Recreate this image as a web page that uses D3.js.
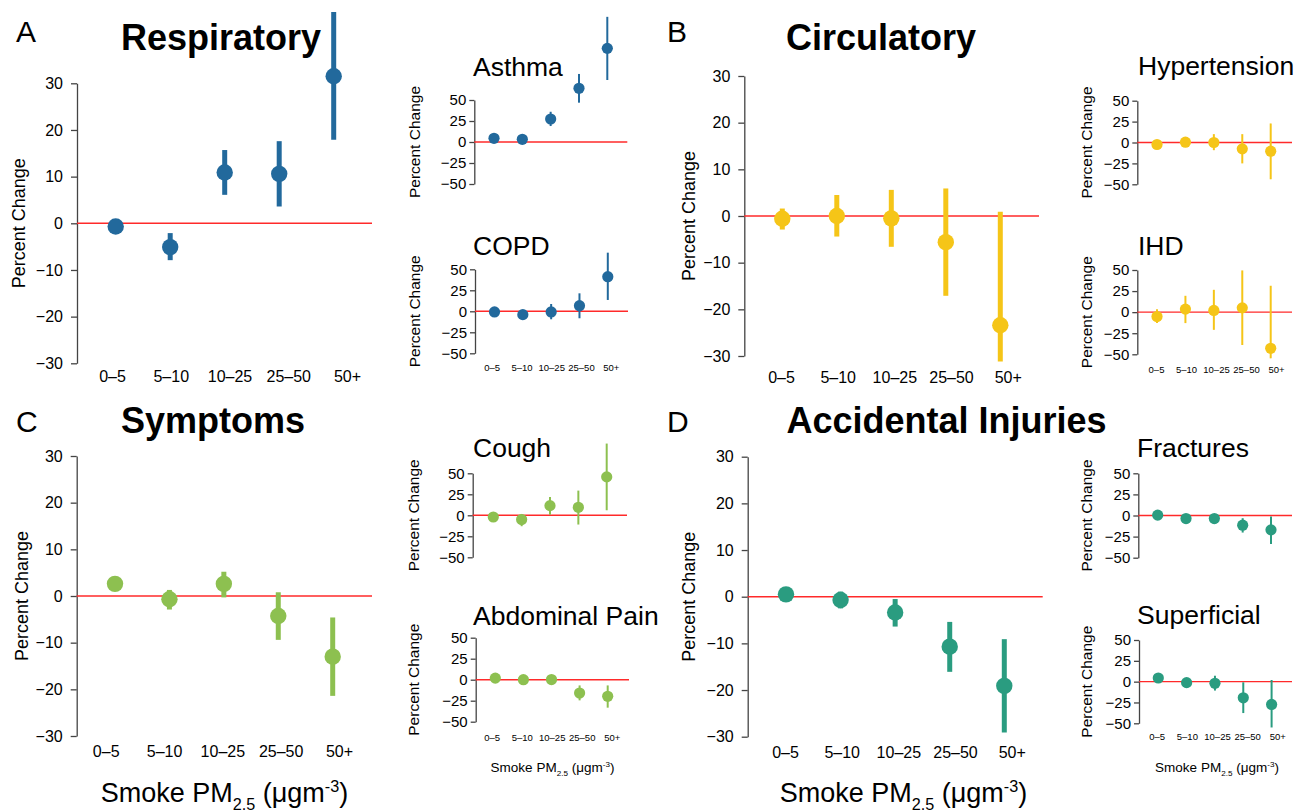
<!DOCTYPE html>
<html>
<head>
<meta charset="utf-8">
<script src="https://cdn.jsdelivr.net/npm/d3@7"></script>
<style>
  body { margin: 0; background: #fff; }
  text { font-family: "Liberation Sans", Arial, Helvetica, sans-serif; fill: #000; }
</style>
</head>
<body>
<svg id="chart" width="1298" height="812"></svg>
<script>
// PM2.5 bins and axis ticks
const bins = ['0–5', '5–10', '10–25', '25–50', '50+'];
const mainTicks = [-30, -20, -10, 0, 10, 20, 30];
const smallTicks = [-50, -25, 0, 25, 50];

// A: respiratory
const respEst = [-0.7, -5.1, 10.9, 10.6, 31.5];
const respLo = [-1.5, -7.9, 6.1, 3.6, 17.9];
const respHi = [0.1, -2.1, 15.7, 17.6, 45.3];
const asthmaEst = [4.4, 3.2, 27.4, 63.9, 111.5];
const asthmaLo = [2, 1, 19, 46.8, 73.8];
const asthmaHi = [7, 5.5, 36, 81, 149];
const copdEst = [-0.8, -4.0, -0.8, 6.7, 41.2];
const copdLo = [-2.5, -6, -9.5, -8.3, 13.5];
const copdHi = [1, -2, 8.7, 21.4, 69.8];

// B: circulatory
const circEst = [-0.6, 0.0, -0.5, -5.6, -23.4];
const circLo = [-2.9, -4.4, -6.6, -17.1, -31.2];
const circHi = [1.6, 4.5, 5.6, 5.9, 0.9];
const hyperEst = [-2.4, 0.4, 0, -7.6, -10.4];
const hyperLo = [-5, -2, -9.2, -25, -44];
const hyperHi = [0, 3, 10, 10, 22.8];
const ihdEst = [-5.2, 3.6, 2, 5.1, -42.9];
const ihdLo = [-13, -13, -21, -39, -54.8];
const ihdHi = [3.5, 19.4, 26.5, 49.5, 31.3];

// C: symptoms
const sympEst = [2.6, -0.7, 2.6, -4.3, -13];
const sympLo = [2.2, -2.9, -0.3, -9.4, -21.4];
const sympHi = [3, 1.3, 5.2, 0.8, -4.6];
const coughEst = [-2, -5.1, 11.5, 9.5, 45.7];
const coughLo = [-4, -13, 0.8, -11, 6];
const coughHi = [0, 1.6, 21.9, 29.4, 85.4];
const abdEst = [1.9, 0, 0.2, -15.9, -19.8];
const abdLo = [0.5, -1.5, -1.5, -24.6, -33.3];
const abdHi = [3.5, 1.5, 2, -6.8, -6.8];

// D: accidental injuries
const injEst = [0.5, -0.7, -3.4, -10.7, -19.1];
const injLo = [0, -2.5, -6.4, -16.1, -29.1];
const injHi = [1, 1.1, -0.5, -5.4, -9.1];
const fracEst = [0.4, -3.6, -3.6, -11.5, -17];
const fracLo = [-1, -5, -5, -20.2, -33.7];
const fracHi = [2, -2, -2, -3.2, -1.2];
const supEst = [4.4, -1.2, -2, -19.4, -27.4];
const supLo = [2.5, -3, -10.7, -37.7, -55];
const supHi = [6.5, 1, 7.1, -0.8, 2];

const blue = '#22699c', yellow = '#f5c518', green = '#8dc050', teal = '#2a9c80';

const svg = d3.select('#chart');

/* big panels: 30 to -30 scale, thick marks */
const bigPanels = [
  {est: respEst, lo: respLo, hi: respHi, color: blue, ax: 77, top: 83.3, bot: 363.3,
   px: [115.7, 333.7], lx: [112, 347], ly: 370.5, red: 372, ylab: 24.6,
   title: 'Respiratory', tx: 221, tyy: 50, letter: 'A', lxx: 16, lyy: 41.7},
  {est: circEst, lo: circLo, hi: circHi, color: yellow, ax: 744.3, top: 76, bot: 356,
   px: [782.3, 1000.3], lx: [781, 1007.7], ly: 371.5, red: 1039, ylab: 694.6,
   title: 'Circulatory', tx: 881, tyy: 50, letter: 'B', lxx: 667, lyy: 41.7},
  {est: sympEst, lo: sympLo, hi: sympHi, color: green, ax: 76.7, top: 456, bot: 736,
   px: [115, 332.7], lx: [105.7, 339], ly: 746, red: 372, ylab: 28,
   title: 'Symptoms', tx: 213, tyy: 433, letter: 'C', lxx: 16, lyy: 431.7},
  {est: injEst, lo: injLo, hi: injHi, color: teal, ax: 747.7, top: 456.7, bot: 736.7,
   px: [786, 1004.3], lx: [785, 1011.7], ly: 746.7, red: 1042.7, ylab: 694.6,
   title: 'Accidental Injuries', tx: 946.5, tyy: 433, letter: 'D', lxx: 667, lyy: 431.7}
];

/* small panels: 50 to -50 scale, thin marks */
const smallPanels = [
  {est: asthmaEst, lo: asthmaLo, hi: asthmaHi, color: blue, ax: 474.3, top: 100, bot: 184,
   px: [494, 607.3], red: 627.3, ylab: 420.4, title: 'Asthma', tx: 473, tyy: 76},
  {est: copdEst, lo: copdLo, hi: copdHi, color: blue, ax: 475, top: 269.3, bot: 353.3,
   px: [494.5, 607.8], red: 628, ylab: 420.4, title: 'COPD', tx: 473, tyy: 255,
   lx: [491.7, 610.7], ly: 364.5},
  {est: hyperEst, lo: hyperLo, hi: hyperHi, color: yellow, ax: 1137.3, top: 100.7, bot: 184.3,
   px: [1157, 1270.7], red: 1292, ylab: 1092, title: 'Hypertension', tx: 1138, tyy: 75},
  {est: ihdEst, lo: ihdLo, hi: ihdHi, color: yellow, ax: 1137.3, top: 270, bot: 354.3,
   px: [1157, 1270.7], red: 1292, ylab: 1092, title: 'IHD', tx: 1138, tyy: 255,
   lx: [1156, 1276], ly: 366.5},
  {est: coughEst, lo: coughLo, hi: coughHi, color: green, ax: 472.7, top: 473.3, bot: 557.3,
   px: [493.3, 606.7], red: 627, ylab: 419.4, title: 'Cough', tx: 473, tyy: 457},
  {est: abdEst, lo: abdLo, hi: abdHi, color: green, ax: 475.7, top: 637.7, bot: 721.7,
   px: [495.3, 607.7], red: 629, ylab: 419.4, title: 'Abdominal Pain', tx: 473, tyy: 625,
   lx: [491.7, 611.7], ly: 734.5, xt: 552.5},
  {est: fracEst, lo: fracLo, hi: fracHi, color: teal, ax: 1138.3, top: 473.3, bot: 557.7,
   px: [1157.7, 1271], red: 1292, ylab: 1092, title: 'Fractures', tx: 1137, tyy: 457},
  {est: supEst, lo: supLo, hi: supHi, color: teal, ax: 1139, top: 640, bot: 723.3,
   px: [1158.3, 1271.6], red: 1292, ylab: 1092, title: 'Superficial', tx: 1137, tyy: 624,
   lx: [1156.7, 1277.3], ly: 733.5, xt: 1217}
];

function drawPanel(p, big) {
  const g = svg.append('g');
  const y = d3.scaleLinear().domain(big ? [-30, 30] : [-50, 50]).range([p.bot, p.top]);
  const x = d3.scalePoint().domain(bins).range(p.px);
  const fs = big ? 16 : 15;

  // y axis
  const yAxis = g.append('g')
    .attr('transform', `translate(${p.ax},0)`)
    .call(d3.axisLeft(y).tickValues(big ? mainTicks : smallTicks)
      .tickSize(big ? 6 : 5).tickSizeOuter(0).tickPadding(big ? 8 : 3));
  yAxis.selectAll('path, line').attr('stroke', '#444').attr('stroke-width', 1.3);
  yAxis.selectAll('text').attr('font-size', fs).attr('font-family', '"Liberation Sans", Arial, sans-serif');

  g.append('text')
    .attr('transform', `translate(${p.ylab},${(p.top + p.bot) / 2}) rotate(-90)`)
    .attr('text-anchor', 'middle')
    .attr('font-size', big ? 18 : 15.5)
    .text('Percent Change');

  // zero line
  g.append('line')
    .attr('x1', p.ax).attr('x2', p.red)
    .attr('y1', y(0)).attr('y2', y(0))
    .attr('stroke', '#ff2a2a').attr('stroke-width', 1.4);

  const data = bins.map((b, i) => ({bin: b, est: p.est[i], lo: p.lo[i], hi: p.hi[i]}));

  g.selectAll('line.ci').data(data).enter().append('line')
    .attr('class', 'ci')
    .attr('x1', (d) => x(d.bin)).attr('x2', (d) => x(d.bin))
    .attr('y1', (d) => y(d.lo)).attr('y2', (d) => y(d.hi))
    .attr('stroke', p.color).attr('stroke-width', big ? 5 : 2);

  g.selectAll('circle').data(data).enter().append('circle')
    .attr('cx', (d) => x(d.bin)).attr('cy', (d) => y(d.est))
    .attr('r', big ? 8.2 : 5.6)
    .attr('fill', p.color);

  // x tick labels
  if (p.lx) {
    const xl = d3.scalePoint().domain(bins).range(p.lx);
    const xAxis = g.append('g')
      .attr('transform', `translate(0,${p.ly})`)
      .call(d3.axisBottom(xl).tickSize(0).tickPadding(0));
    xAxis.select('.domain').remove();
    xAxis.selectAll('text').attr('font-size', big ? 16 : 9.5)
      .attr('font-family', '"Liberation Sans", Arial, sans-serif');
  }

  // titles
  if (big) {
    g.append('text').attr('x', p.tx).attr('y', p.tyy)
      .attr('text-anchor', 'middle').attr('font-size', 36).attr('font-weight', 'bold')
      .text(p.title);
    g.append('text').attr('x', p.lxx).attr('y', p.lyy)
      .attr('font-size', 30).text(p.letter);
  } else {
    g.append('text').attr('x', p.tx).attr('y', p.tyy)
      .attr('font-size', 26.5).text(p.title);
  }
}

function pmLabel(cx, by, size) {
  const t = svg.append('text').attr('x', cx).attr('y', by)
    .attr('text-anchor', 'middle').attr('font-size', size);
  t.append('tspan').text('Smoke PM');
  t.append('tspan').attr('font-size', size * 0.6).attr('dy', size * 0.3).text('2.5');
  t.append('tspan').attr('dy', -size * 0.3).text(' (μgm');
  t.append('tspan').attr('font-size', size * 0.6).attr('dy', -size * 0.35).text('-3');
  t.append('tspan').attr('dy', size * 0.35).text(')');
}

bigPanels.forEach((p) => drawPanel(p, true));
smallPanels.forEach((p) => drawPanel(p, false));

pmLabel(224.5, 801.5, 27);
pmLabel(903.5, 801.5, 27);
smallPanels.filter((p) => p.xt).forEach((p) => pmLabel(p.xt, 771.5, 13.5));
</script>
</body>
</html>
